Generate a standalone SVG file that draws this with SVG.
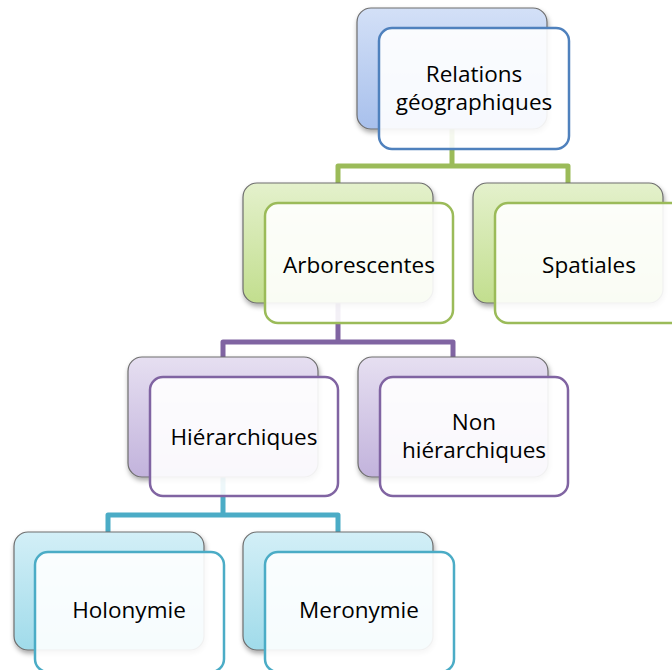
<svg xmlns="http://www.w3.org/2000/svg" width="672" height="670" viewBox="0 0 672 670">
<defs>
<linearGradient id="gBlue" x1="0" y1="0" x2="0" y2="1"><stop offset="0" stop-color="#d3e0f7"/><stop offset="1" stop-color="#a8c0ec"/></linearGradient>
<linearGradient id="gGreen" x1="0" y1="0" x2="0" y2="1"><stop offset="0" stop-color="#e4f1cc"/><stop offset="1" stop-color="#c2de8e"/></linearGradient>
<linearGradient id="gPurple" x1="0" y1="0" x2="0" y2="1"><stop offset="0" stop-color="#e6dff1"/><stop offset="1" stop-color="#c2b3dc"/></linearGradient>
<linearGradient id="gTeal" x1="0" y1="0" x2="0" y2="1"><stop offset="0" stop-color="#d3eff7"/><stop offset="1" stop-color="#a0dbea"/></linearGradient>
<filter id="sh" x="-10%" y="-10%" width="125%" height="130%"><feDropShadow dx="1" dy="3" stdDeviation="2.5" flood-color="#000" flood-opacity="0.35"/></filter>
</defs>
<style>
.back{stroke:#6e6e6e;stroke-width:1.2;filter:url(#sh)}
.front{fill:#ffffff;fill-opacity:0.9;stroke-width:2.5}
.t{font-family:"Open Sans","Noto Sans",sans-serif;font-size:22.5px;fill:#000;text-anchor:middle}
.c{fill:none;stroke-width:5;stroke-linejoin:round}
</style>
<g id="connectors">
<path class="c" stroke="#9bbb59" d="M452,129 V166 M338,183 V166 H568 V183"/>
<path class="c" stroke="#8064a2" d="M338,303 V342 M223,357 V342 H453 V357"/>
<path class="c" stroke="#4bacc6" d="M223,477 V515 M108,532 V515 H338 V532"/>
</g>
<g id="root">
<rect class="back" x="357" y="8" width="190" height="121" rx="14" fill="url(#gBlue)"/>
<rect class="front" x="379" y="28" width="190" height="121" rx="13" stroke="#4f81bd"/>
<text class="t" x="474" y="82">Relations</text>
<text class="t" x="474" y="110">géographiques</text>
</g>
<g id="arborescentes">
<rect class="back" x="243" y="183" width="190" height="120" rx="14" fill="url(#gGreen)"/>
<rect class="front" x="265" y="203" width="188" height="120" rx="13" stroke="#9bbb59"/>
<text class="t" x="359" y="273">Arborescentes</text>
</g>
<g id="spatiales">
<rect class="back" x="473" y="183" width="190" height="120" rx="14" fill="url(#gGreen)"/>
<rect class="front" x="495" y="203" width="190" height="120" rx="13" stroke="#9bbb59"/>
<text class="t" x="589" y="273">Spatiales</text>
</g>
<g id="hierarchiques">
<rect class="back" x="128" y="357" width="190" height="120" rx="14" fill="url(#gPurple)"/>
<rect class="front" x="150" y="377" width="188" height="119" rx="13" stroke="#8064a2"/>
<text class="t" x="244" y="445">Hiérarchiques</text>
</g>
<g id="non-hierarchiques">
<rect class="back" x="358" y="357" width="190" height="120" rx="14" fill="url(#gPurple)"/>
<rect class="front" x="380" y="377" width="188" height="119" rx="13" stroke="#8064a2"/>
<text class="t" x="474" y="430">Non</text>
<text class="t" x="474" y="458">hiérarchiques</text>
</g>
<g id="holonymie">
<rect class="back" x="14" y="532" width="190" height="118" rx="14" fill="url(#gTeal)"/>
<rect class="front" x="35" y="552" width="189" height="120" rx="13" stroke="#4bacc6"/>
<text class="t" x="129" y="618">Holonymie</text>
</g>
<g id="meronymie">
<rect class="back" x="243" y="532" width="190" height="118" rx="14" fill="url(#gTeal)"/>
<rect class="front" x="265" y="552" width="189" height="120" rx="13" stroke="#4bacc6"/>
<text class="t" x="359" y="618">Meronymie</text>
</g>
</svg>
